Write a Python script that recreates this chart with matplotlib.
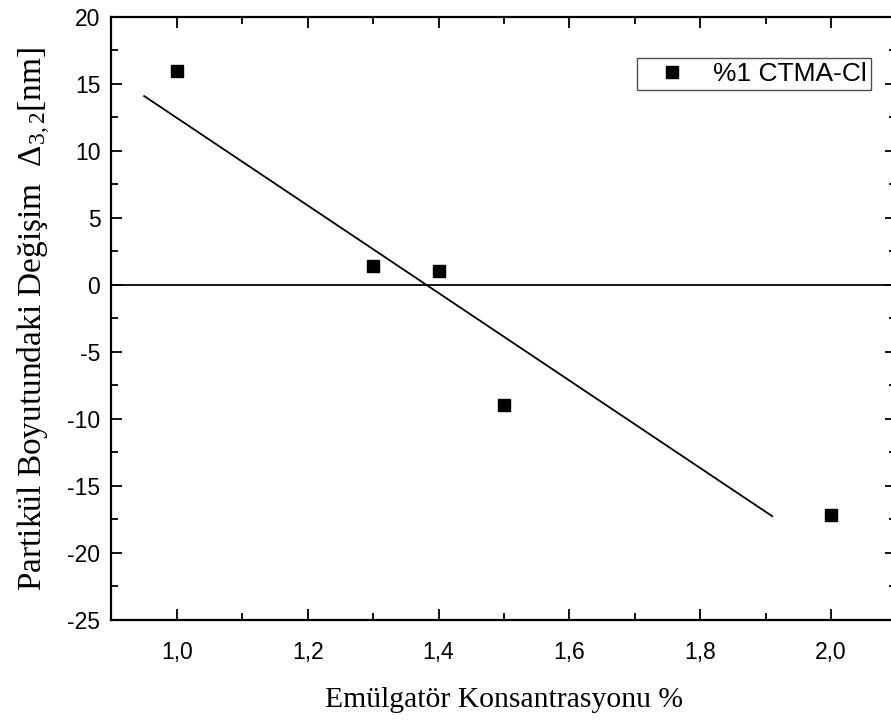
#!/usr/bin/env python3
# -*- coding: utf-8 -*-

import matplotlib
matplotlib.use('Agg')
import matplotlib.pyplot as plt
from matplotlib.ticker import MultipleLocator, FuncFormatter

# veriler
konsantrasyon = [1.0, 1.3, 1.4, 1.5, 2.0]
degisim = [16.0, 1.45, 1.05, -8.95, -17.15]
seri_adi = '%1 CTMA-Cl'
# doğrusal uydurma çizgisi (grafikten okunan uç noktalar)
fit_x = [0.95, 1.91]
fit_y = [14.1, -17.25]

plt.rcParams['font.family'] = ['Liberation Sans', 'DejaVu Sans']
plt.rcParams['mathtext.fontset'] = 'custom'
plt.rcParams['mathtext.rm'] = 'Liberation Serif'
plt.rcParams['mathtext.it'] = 'Liberation Serif:italic'


def main():
    fig = plt.figure(figsize=(8.91, 7.2), dpi=100)
    ax = fig.add_axes([0.1251, 0.1389, 0.881, 0.8375])

    ax.plot(fit_x, fit_y, color='black', lw=1.3)
    ax.axhline(0, color='black', lw=1.3)
    ax.plot(konsantrasyon, degisim, 's', color='black', ms=9,
            label=seri_adi, linestyle='none')

    ax.set_xlim(0.9, 2.1)
    ax.set_ylim(-25, 20)
    ax.xaxis.set_major_locator(MultipleLocator(0.2))
    ax.xaxis.set_minor_locator(MultipleLocator(0.1))
    ax.yaxis.set_major_locator(MultipleLocator(5))
    ax.yaxis.set_minor_locator(MultipleLocator(2.5))
    ax.xaxis.set_major_formatter(FuncFormatter(lambda v, p: ('%.1f' % v).replace('.', ',')))
    ax.yaxis.set_major_formatter(FuncFormatter(lambda v, p: '%d' % round(v)))

    ax.tick_params(which='both', direction='in', top=True, right=True,
                   width=1.3, labelsize=16.5)
    ax.tick_params(axis='x', which='major', pad=15)
    ax.tick_params(axis='y', which='major', pad=8)
    ax.tick_params(which='major', length=8)
    ax.tick_params(which='minor', length=5)
    for s in ax.spines.values():
        s.set_linewidth(1.6)

    ax.set_xlabel('Emülgatör Konsantrasyonu %', family='Liberation Serif',
                  fontsize=21.3, labelpad=17)
    ax.set_ylabel(r'Partikül Boyutundaki Değişim  $\Delta_{3,2}$[nm]',
                  family='Liberation Serif', fontsize=24, labelpad=10)

    leg = ax.legend(loc='upper right', bbox_to_anchor=(0.9675, 0.932),
                    fontsize=19, frameon=True, fancybox=False,
                    handlelength=2.4, handletextpad=0.35, borderpad=0.15,
                    borderaxespad=0)
    leg.get_frame().set_edgecolor('#222222')
    leg.get_frame().set_linewidth(1.0)

    fig.savefig('out.png', dpi=100)


if __name__ == '__main__':
    main()
